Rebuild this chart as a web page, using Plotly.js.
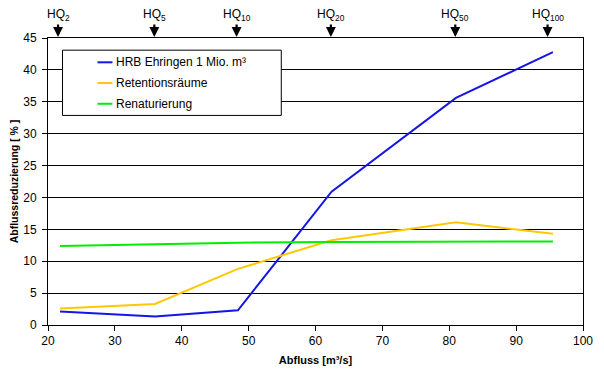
<!DOCTYPE html>
<html>
<head>
<meta charset="utf-8">
<script src="https://cdn.plot.ly/plotly-3.0.1.min.js"></script>
<style>html,body{margin:0;padding:0;background:#fff;}#chart{width:604px;height:375px;}</style>
</head>
<body>
<div id="chart"></div>
<script>
// Data
const abfluss = [21.8, 36.0, 48.4, 62.4, 81.0, 95.5];
const hrb = [2.1, 1.35, 2.3, 20.9, 35.6, 42.8];
const retention = [2.6, 3.3, 8.8, 13.3, 16.1, 14.3];
const renaturierung = [12.4, 12.7, 12.9, 13.0, 13.0, 13.1];
const seriesNames = ["HRB Ehringen 1 Mio. m³", "Retentionsräume", "Renaturierung"];
const seriesColors = ["#1515e6", "#ffc800", "#00ee00"];
const hqLabels = ["HQ<sub>2</sub>", "HQ<sub>5</sub>", "HQ<sub>10</sub>", "HQ<sub>20</sub>", "HQ<sub>50</sub>", "HQ<sub>100</sub>"];
const hqPos = [21.5, 35.9, 48.2, 62.3, 80.9, 94.7];

const seriesVals = [hrb, retention, renaturierung];
const traces = seriesVals.map((v, i) => ({
  x: abfluss, y: v, type: 'scatter', mode: 'lines', name: seriesNames[i],
  line: {color: seriesColors[i], width: 2}, showlegend: false, hoverinfo: 'skip'
}));

const font = {family: 'Liberation Sans, Arial, sans-serif', size: 12, color: '#000'};

const annotations = hqLabels.map((t, i) => ({
  x: hqPos[i], y: 45, xref: 'x', yref: 'y', text: t, showarrow: true,
  ax: 0, ay: -23, arrowhead: 2, arrowsize: 0.9, arrowwidth: 2.2, arrowcolor: '#000',
  standoff: 1, font: {family: font.family, size: 12, color: '#000'}
}));

// legend drawn manually inside a framed box
const plotL = 47.5, plotR = 583, plotT = 37.3, plotB = 325.3;
const px = (p) => (p - plotL) / (plotR - plotL);
const py = (p) => (plotB - p) / (plotB - plotT);
const shapes = [{
  type: 'rect', xref: 'paper', yref: 'paper',
  x0: px(62), x1: px(281), y0: py(115), y1: py(49.5),
  line: {color: '#000', width: 1}, fillcolor: '#fff', layer: 'above'
}];
const legendRows = [61.7, 82.5, 103.3];
seriesNames.forEach((n, i) => {
  shapes.push({type: 'line', xref: 'paper', yref: 'paper', x0: px(97), x1: px(112),
    y0: py(legendRows[i]), y1: py(legendRows[i]), line: {color: seriesColors[i], width: 2}, layer: 'above'});
  annotations.push({xref: 'paper', yref: 'paper', x: px(114), y: py(legendRows[i]),
    xanchor: 'left', yanchor: 'middle', text: n, showarrow: false,
    font: {family: font.family, size: 12, color: '#000'}});
});

const layout = {
  width: 604, height: 375,
  margin: {l: 47.5, r: 21, t: 37.7, b: 49.7},
  paper_bgcolor: '#fff', plot_bgcolor: '#fff',
  font: font,
  showlegend: false,
  xaxis: {
    range: [20, 100], dtick: 10, tick0: 20, showgrid: false, zeroline: false,
    showline: true, linecolor: '#000', linewidth: 1, mirror: true,
    ticks: 'outside', ticklen: 5, tickcolor: '#000',
    tickfont: {family: font.family, size: 12},
    title: {text: '<b>Abfluss [m³/s]</b>', font: {family: font.family, size: 11}, standoff: 8}
  },
  yaxis: {
    range: [0, 45], dtick: 5, tick0: 0, showgrid: true, gridcolor: '#000', gridwidth: 1,
    zeroline: false, showline: true, linecolor: '#000', linewidth: 1, mirror: true,
    ticks: 'outside', ticklen: 5, tickcolor: '#000', ticklabelstandoff: 3,
    tickfont: {family: font.family, size: 12},
    title: {text: '<b>Abflussreduzierung [ % ]</b>', font: {family: font.family, size: 10.5}, standoff: 2}
  },
  shapes: shapes,
  annotations: annotations
};

Plotly.newPlot('chart', traces, layout, {staticPlot: true, displayModeBar: false});
</script>
</body>
</html>
